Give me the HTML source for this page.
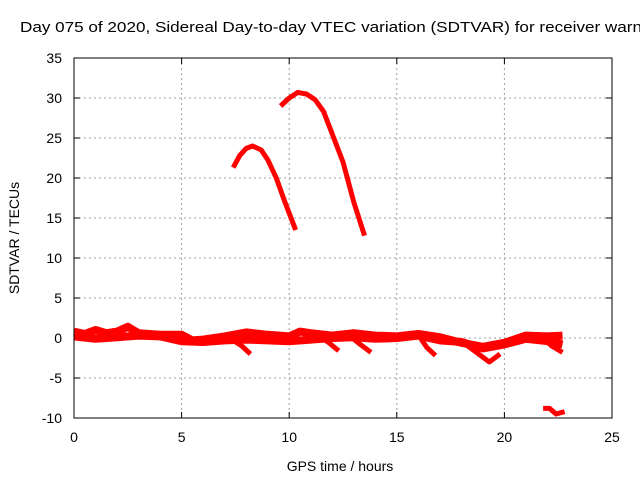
<!DOCTYPE html>
<html><head><meta charset="utf-8"><style>
body{margin:0;background:#fff;}
svg text{font-family:"Liberation Sans",sans-serif;font-size:14px;fill:#000;}
</style></head><body>
<svg id="c" width="640" height="480" xmlns="http://www.w3.org/2000/svg">
<text x="20" y="32" textLength="622" lengthAdjust="spacingAndGlyphs" style="font-size:15px">Day 075 of 2020, Sidereal Day-to-day VTEC variation (SDTVAR) for receiver warn</text>
<text x="340" y="471" text-anchor="middle">GPS time / hours</text>
<text transform="translate(19,238) rotate(-90)" text-anchor="middle">SDTVAR / TECUs</text>
<g id="grid"></g><g id="ticks"></g><g id="series"></g>
<rect x="74" y="58" width="538" height="360" fill="none" stroke="#000"/>
</svg>
<script>
const xTicks=[0,5,10,15,20,25];
const yTicks=[-10,-5,0,5,10,15,20,25,30,35];
const arc1=[[7.4,21.3],[7.7,22.8],[8.0,23.7],[8.3,24.0],[8.7,23.5],[9.0,22.3],[9.4,20.0],[9.8,17.0],[10.3,13.5]];
const arc2=[[9.6,29.0],[10.0,30.0],[10.4,30.7],[10.8,30.5],[11.2,29.8],[11.6,28.3],[12.0,25.5],[12.5,22.0],[13.0,17.0],[13.5,12.8]];
const band1=[[0,0.8],[0.5,0.5],[1,1.0],[1.5,0.6],[2,0.8],[2.5,1.4],[3,0.6],[4,0.4],[5,0.4],[5.5,-0.3],[6,-0.2],[7,0.2],[8,0.7],[9,0.4],[10,0.2],[10.5,0.8],[11,0.6],[12,0.3],[13,0.6],[14,0.3],[15,0.2],[16,0.5],[17,0.1],[18,-0.6],[19,-1.1],[20,-0.6],[21,0.3],[22,0.2],[22.7,0.3]];
const band2=[[0,0.2],[1,-0.1],[2,0.1],[3,0.3],[4,0.2],[5,-0.4],[6,-0.5],[7,-0.3],[8,-0.2],[9,-0.3],[10,-0.4],[11,-0.2],[12,0],[13,0.1],[14,-0.1],[15,0],[16,0.3],[17,-0.3],[18,-0.5],[19,-1.3],[20,-0.8],[21,-0.1],[22,-0.4],[22.7,-0.8]];
const dip1=[[7.4,-0.3],[7.8,-1.0],[8.2,-2.0]];
const dip2=[[11.3,0.3],[11.8,-0.5],[12.3,-1.6]];
const dip3=[[12.8,0.3],[13.3,-0.8],[13.8,-1.8]];
const dip4=[[16.0,0.4],[16.4,-1.2],[16.8,-2.2]];
const dip5=[[18.2,-0.8],[18.8,-2.0],[19.3,-3.0],[19.8,-2.0]];
const dip6=[[21.8,0.0],[22.2,-1.0],[22.7,-1.8]];
const tail=[[21.8,-8.8],[22.1,-8.8],[22.4,-9.5],[22.8,-9.2]];
const seriesList=[band1,band2,dip1,dip2,dip3,dip4,dip5,dip6,arc1,arc2,tail];
const X=v=>74+v*538/25, Y=v=>418-(v+10)*8;
const NS='http://www.w3.org/2000/svg';
function mk(t,a,p){const e=document.createElementNS(NS,t);for(const k in a)e.setAttribute(k,a[k]);document.getElementById(p).appendChild(e);return e;}
xTicks.forEach(t=>{
 if(t>0&&t<25){const g=mk('line',{x1:X(t),x2:X(t),y1:58,y2:418,stroke:'#a0a0a0','stroke-dasharray':'2,3'},'grid');}
 mk('line',{x1:X(t),x2:X(t),y1:418,y2:412,stroke:'#000'},'ticks');mk('line',{x1:X(t),x2:X(t),y1:58,y2:64,stroke:'#000'},'ticks');
 const l=mk('text',{x:X(t),y:442,'text-anchor':'middle'},'ticks');l.textContent=t;
 
});
yTicks.forEach(t=>{
 if(t>-10&&t<35){const g=mk('line',{x1:74,x2:612,y1:Y(t),y2:Y(t),stroke:'#a0a0a0','stroke-dasharray':'2,3'},'grid');}
 mk('line',{x1:74,x2:80,y1:Y(t),y2:Y(t),stroke:'#000'},'ticks');mk('line',{x1:606,x2:612,y1:Y(t),y2:Y(t),stroke:'#000'},'ticks');
 const l=mk('text',{x:62,y:Y(t)+5,'text-anchor':'end'},'ticks');l.textContent=t;
 
});
seriesList.forEach((s,i)=>{
 const p=mk('polyline',{points:s.map(d=>X(d[0])+','+Y(d[1])).join(' '),fill:'none',stroke:'#ff0000','stroke-width':i<2?8:5,'stroke-linejoin':'round'},'series');
 
 
});
</script>
</body></html>
